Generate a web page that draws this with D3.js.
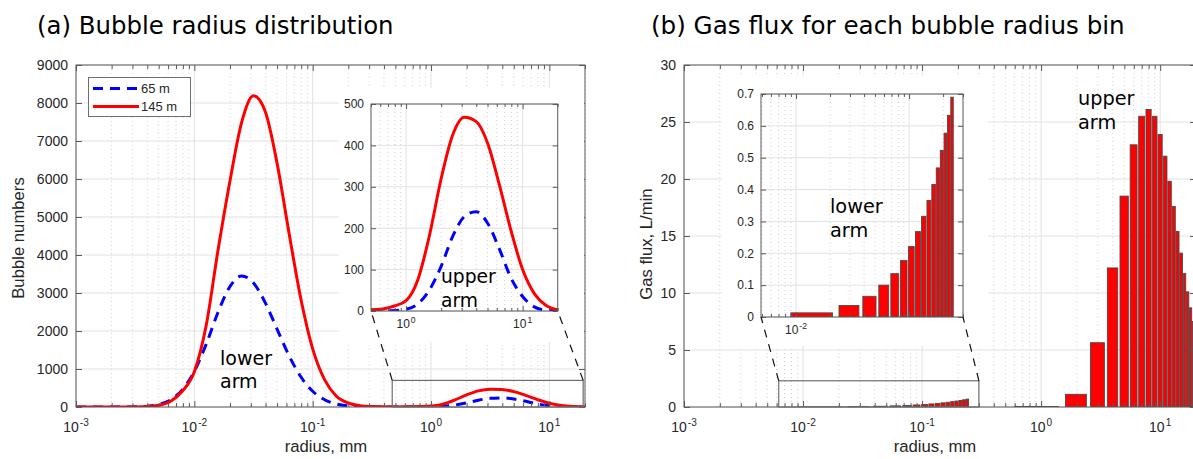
<!DOCTYPE html>
<html lang="en">
<head>
<meta charset="UTF-8">
<title>bubble radius / gas flux</title>
<style>
  body { margin: 0; background: #fff; }
  svg { display: block; font-family: "Liberation Sans", Arial, sans-serif; }
</style>
</head>
<body>
<svg id="chart" width="1193" height="459"></svg>
<script src="https://cdn.jsdelivr.net/npm/d3@7"></script>
<script>
// ---- data ----
// radius grid, mm (log spaced, 10 per decade)
const radius = [0.001, 0.00126, 0.00158, 0.002, 0.00251, 0.00316, 0.00398, 0.00501, 0.00631, 0.00794,
  0.01, 0.0126, 0.0158, 0.02, 0.0251, 0.0316, 0.0398, 0.0501, 0.0631, 0.0794,
  0.1, 0.126, 0.158, 0.2, 0.251, 0.316, 0.398, 0.501, 0.631, 0.794,
  1, 1.26, 1.58, 2, 2.51, 3.16, 3.98, 5.01, 6.31, 7.94,
  10, 12.6, 15.8, 20];
// bubble numbers, 65 m depth
const n65 = [0, 0, 0, 0, 1, 5, 20, 67, 188, 457,
  940, 1656, 2480, 3170, 3450, 3264, 2740, 2043, 1352, 795,
  414, 192, 79, 29, 9, 3, 1, 0, 0, 1,
  4, 17, 50, 108, 180, 228, 240, 212, 150, 80,
  35, 10, 2, 0];
// bubble numbers, 145 m depth
const n145 = [0, 0, 0, 0, 1, 3, 12, 45, 150, 420,
  930, 2150, 4100, 5950, 7490, 8190, 7770, 6400, 4580, 2850,
  1530, 720, 290, 105, 35, 12, 5, 3, 5, 12,
  25, 75, 180, 320, 425, 468, 458, 405, 305, 195,
  100, 42, 14, 3];

// gas flux per radius bin (L/min)
const binLow = [0.015, 0.03, 0.045, 0.06, 0.075, 0.09, 0.105, 0.12, 0.135, 0.15, 0.165, 0.18, 0.195, 0.21, 0.225, 0.24];
const fluxLow = [0.013, 0.036, 0.065, 0.100, 0.136, 0.177, 0.221, 0.268, 0.316, 0.366, 0.416, 0.468, 0.523, 0.577, 0.633, 0.690];
const binHigh = [1, 2, 3, 4, 5, 6, 7, 8, 9, 10, 11, 12, 13, 14, 15, 16, 17, 18, 19, 20];
const fluxHigh = [0.05, 1.11, 5.64, 12.2, 18.5, 23.0, 25.5, 26.1, 25.5, 23.9, 22.0, 19.8, 17.6, 15.4, 13.5, 11.7, 10.1, 8.7, 7.5, 6.4];

// tick values
const yTicksA = [0, 1000, 2000, 3000, 4000, 5000, 6000, 7000, 8000, 9000];
const yTicksAin = [0, 100, 200, 300, 400, 500];
const yTicksB = [0, 5, 10, 15, 20, 25, 30];
const yTicksBin = [0, 0.1, 0.2, 0.3, 0.4, 0.5, 0.6, 0.7];
const legendNames = ["65 m", "145 m"];

// ---- drawing ----
const svg = d3.select("#chart");
const defs = svg.append("defs");
const frameCol = "#5a5a5a", textCol = "#262626";
let clipCount = 0;

function makeAxes(o) {
	const x = d3.scaleLog().domain(o.xDom).range([o.l, o.r]);
	const y = d3.scaleLinear().domain(o.yDom).range([o.b, o.t]);
	const g = svg.append("g");
	const id = "clip" + (clipCount++);
	defs.append("clipPath").attr("id", id).append("rect")
		.attr("x", o.l).attr("y", o.t).attr("width", o.r - o.l).attr("height", o.b - o.t);
	if (o.bg) {
		g.append("rect").attr("x", o.bg[0]).attr("y", o.bg[1])
			.attr("width", o.bg[2] - o.bg[0]).attr("height", o.bg[3] - o.bg[1]).attr("fill", "#fff");
	}
	const all = x.ticks();
	const isMajor = v => Math.abs(Math.log10(v) - Math.round(Math.log10(v))) < 1e-6;
	const major = all.filter(isMajor), minor = all.filter(v => !isMajor(v));

	const grid = g.append("g");
	grid.selectAll("line.vmin").data(minor).join("line").attr("class", "vmin")
		.attr("x1", d => x(d)).attr("x2", d => x(d)).attr("y1", o.t).attr("y2", o.b)
		.attr("stroke", "#c4c4c4").attr("stroke-width", 0.8).attr("stroke-dasharray", "1,3");
	grid.selectAll("line.vmaj").data(major).join("line").attr("class", "vmaj")
		.attr("x1", d => x(d)).attr("x2", d => x(d)).attr("y1", o.t).attr("y2", o.b)
		.attr("stroke", "#e2e2e2");
	grid.selectAll("line.h").data(o.yTicks).join("line").attr("class", "h")
		.attr("x1", o.l).attr("x2", o.r).attr("y1", d => y(d)).attr("y2", d => y(d))
		.attr("stroke", "#e2e2e2");

	const plot = g.append("g").attr("clip-path", `url(#${id})`);
	return {x, y, g, plot, major, minor, o};
}

function tickGroup(sel, axis) {
	sel.call(axis.tickFormat("").tickSizeOuter(0));
	sel.select(".domain").remove();
	sel.selectAll(".tick line").attr("stroke", frameCol);
}

function drawFrame(A, s) {
	const {x, y, g, o} = A;
	const ax = g.append("g");
	tickGroup(ax.append("g").attr("transform", `translate(0,${o.b})`), d3.axisBottom(x).tickValues(A.major).tickSize(-s.tk));
	tickGroup(ax.append("g").attr("transform", `translate(0,${o.b})`), d3.axisBottom(x).tickValues(A.minor).tickSize(-s.tkm));
	tickGroup(ax.append("g").attr("transform", `translate(0,${o.t})`), d3.axisTop(x).tickValues(A.major).tickSize(-s.tk));
	tickGroup(ax.append("g").attr("transform", `translate(0,${o.t})`), d3.axisTop(x).tickValues(A.minor).tickSize(-s.tkm));
	tickGroup(ax.append("g").attr("transform", `translate(${o.r},0)`), d3.axisRight(y).tickValues(o.yTicks).tickSize(-s.tk));

	// left axis with labels
	const yl = ax.append("g").attr("transform", `translate(${o.l},0)`)
		.call(d3.axisLeft(y).tickValues(o.yTicks).tickSize(-s.tk).tickSizeOuter(0).tickPadding(s.pad).tickFormat(s.fmt));
	yl.select(".domain").remove();
	yl.attr("font-family", null).attr("font-size", s.fs);
	yl.selectAll(".tick line").attr("stroke", frameCol);
	yl.selectAll(".tick text").attr("fill", textCol);

	ax.append("rect").attr("x", o.l).attr("y", o.t).attr("width", o.r - o.l).attr("height", o.b - o.t)
		.attr("fill", "none").attr("stroke", frameCol).attr("stroke-width", 1);

	// log tick labels 10^n
	const labs = ax.selectAll("text.xl").data(s.xLabels || A.major).join("text").attr("class", "xl")
		.attr("x", d => x(d)).attr("y", o.b + s.lab).attr("text-anchor", "middle")
		.attr("font-size", s.fs).attr("fill", textCol);
	labs.append("tspan").text("10");
	labs.append("tspan").attr("dx", 1).attr("dy", -s.fs * 0.45).attr("font-size", s.fs * 0.72)
		.text(d => { const e = Math.round(Math.log10(d)); return e < 0 ? "-" + (-e) : String(e); });
}

function drawCurves(A, xs, series) {
	series.forEach(s => {
		const line = d3.line().x((d, i) => A.x(xs[i])).y(d => A.y(d)).curve(d3.curveMonotoneX);
		A.plot.append("path").datum(s.v).attr("d", line)
			.attr("fill", "none").attr("stroke", s.c).attr("stroke-width", 3)
			.attr("stroke-dasharray", s.dash || null);
	});
}

function drawBars(A, bins, vals, step) {
	const data = bins.map((b, i) => ({b, v: vals[i]}));
	A.plot.append("g").selectAll("rect").data(data).join("rect")
		.attr("x", d => A.x(d.b - 0.4 * step))
		.attr("width", d => A.x(d.b + 0.4 * step) - A.x(d.b - 0.4 * step))
		.attr("y", d => A.y(d.v)).attr("height", d => A.y(0) - A.y(d.v))
		.attr("fill", "#ff0000").attr("stroke", "#4a4a4a").attr("stroke-width", 0.9);
}

function zoomBox(A, I, box) {
	const x0 = A.x(box[0]), x1 = A.x(box[1]), yt = A.y(box[2]), yb = A.y(0);
	const g = svg.append("g");
	g.append("rect").attr("x", x0).attr("y", yt).attr("width", x1 - x0).attr("height", yb - yt)
		.attr("fill", "none").attr("stroke", "#6e6e6e").attr("stroke-width", 1.2);
	const links = [[x0, yt, I.o.l, I.o.b], [x1, yt, I.o.r, I.o.b]];
	g.selectAll("line").data(links).join("line")
		.attr("x1", d => d[0]).attr("y1", d => d[1]).attr("x2", d => d[2]).attr("y2", d => d[3])
		.attr("stroke", "#111").attr("stroke-width", 1.2).attr("stroke-dasharray", "8,7");
}

function note(x, y, lines, fs) {
	const t = svg.append("text").attr("font-family", "DejaVu Sans").attr("font-size", fs).attr("fill", "#000");
	lines.forEach((s, i) => t.append("tspan").attr("x", x).attr("y", y + i * fs * 1.25).text(s));
}

const mainStyle = {tk: 6, tkm: 4, fs: 14, pad: 8, lab: 25, fmt: d3.format("d")};
const inStyle = {tk: 5, tkm: 3, fs: 12, pad: 7, lab: 17};

// ===== panel (a) =====
const A = makeAxes({l: 76, r: 585, t: 65, b: 407, xDom: [0.001, 20], yDom: [0, 9000], yTicks: yTicksA});
drawCurves(A, radius, [{v: n65, c: "#0000ff", dash: "10,7"}, {v: n145, c: "#ff0000"}]);
drawFrame(A, mainStyle);

const Ai = makeAxes({l: 371, r: 557.7, t: 104, b: 311, xDom: [0.5, 20], yDom: [0, 500], yTicks: yTicksAin,
	bg: [339, 88, 584, 342]});
drawCurves(Ai, radius, [{v: n65, c: "#0000ff", dash: "10,7"}, {v: n145, c: "#ff0000"}]);
drawFrame(Ai, Object.assign({}, inStyle, {fmt: d3.format("d")}));
zoomBox(A, Ai, [0.47, 19.3, 700]);

// legend
const leg = svg.append("g");
leg.append("rect").attr("x", 88.5).attr("y", 77.5).attr("width", 102).attr("height", 39)
	.attr("fill", "#fff").attr("stroke", "#6e6e6e");
legendNames.forEach((nm, i) => {
	const yy = 88.5 + i * 18;
	leg.append("line").attr("x1", 93).attr("x2", 139).attr("y1", yy).attr("y2", yy)
		.attr("stroke", i ? "#ff0000" : "#0000ff").attr("stroke-width", 3)
		.attr("stroke-dasharray", i ? null : "10,7");
	leg.append("text").attr("x", 141).attr("y", yy + 4.8).attr("font-size", 13).attr("fill", textCol).text(nm);
});

// ===== panel (b) =====
const B = makeAxes({l: 684, r: 1196, t: 65, b: 407, xDom: [0.001, 20], yDom: [0, 30], yTicks: yTicksB});
drawBars(B, binLow, fluxLow, 0.015);
drawBars(B, binHigh, fluxHigh, 1);
drawFrame(B, mainStyle);

const Bi = makeAxes({l: 761, r: 963, t: 94, b: 317, xDom: [0.0049, 0.30], yDom: [0, 0.7], yTicks: yTicksBin,
	bg: [722, 76, 988, 346]});
drawBars(Bi, binLow, fluxLow, 0.015);
drawFrame(Bi, Object.assign({}, inStyle, {fmt: d => d === 0 ? "0" : d3.format(".1f")(d), xLabels: [0.01]}));
zoomBox(B, Bi, [0.00625, 0.30, 2.3]);

// ===== labels =====
svg.append("text").attr("x", 37).attr("y", 33.5).attr("font-family", "DejaVu Sans").attr("font-size", 24.4)
	.attr("fill", "#000").text("(a) Bubble radius distribution");
svg.append("text").attr("x", 651).attr("y", 33.5).attr("font-family", "DejaVu Sans").attr("font-size", 24.6)
	.attr("fill", "#000").text("(b) Gas flux for each bubble radius bin");

svg.append("text").attr("x", 326).attr("y", 452).attr("text-anchor", "middle").attr("font-size", 16.7)
	.attr("fill", textCol).text("radius, mm");
svg.append("text").attr("x", 935).attr("y", 452).attr("text-anchor", "middle").attr("font-size", 16.7)
	.attr("fill", textCol).text("radius, mm");
svg.append("text").attr("transform", "translate(24,238) rotate(-90)").attr("text-anchor", "middle")
	.attr("font-size", 16.7).attr("fill", textCol).text("Bubble numbers");
svg.append("text").attr("transform", "translate(652,244) rotate(-90)").attr("text-anchor", "middle")
	.attr("font-size", 16.7).attr("fill", textCol).text("Gas flux, L/min");

note(220, 364.7, ["lower", "arm"], 19);
note(441, 283.3, ["upper", "arm"], 18.7);
note(830, 213.3, ["lower", "arm"], 19.3);
note(1078, 105, ["upper", "arm"], 19.3);
</script>
</body>
</html>
